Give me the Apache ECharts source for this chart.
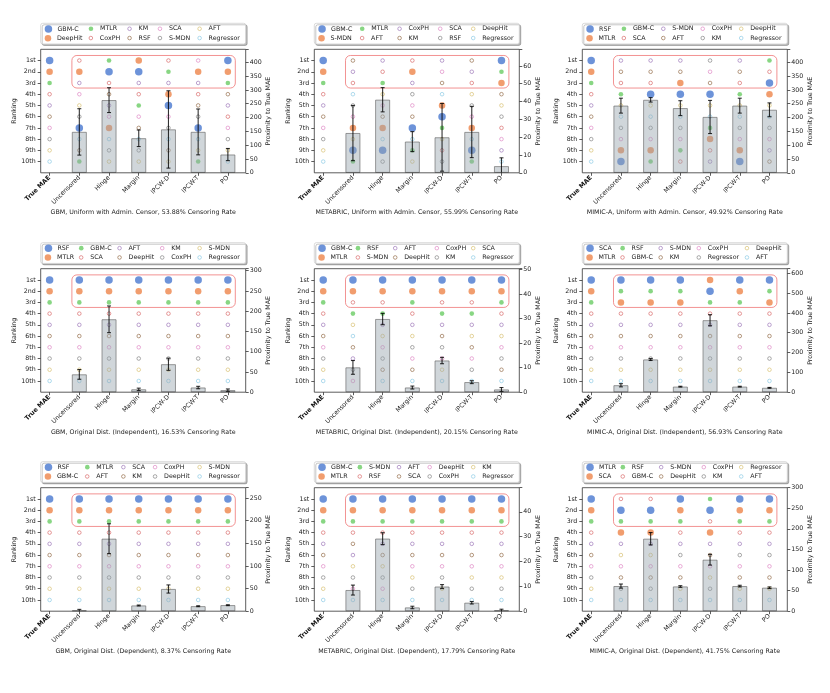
<!DOCTYPE html>
<html><head><meta charset="utf-8">
<script src="https://cdn.jsdelivr.net/npm/echarts@6/dist/echarts.min.js"></script>
<style>html,body{margin:0;padding:0;background:#fff}#c{width:830px;height:693px}</style>
</head><body><div id="c"></div>
<script>
// ---------------- DATA ----------------
const COLUMNS = ['True MAE','Uncensored','Hinge','Margin','IPCW-D','IPCW-T','PO'];
const RANK_LABELS = ['1st','2nd','3rd','4th','5th','6th','7th','8th','9th','10th'];
const TITLES = [
  'GBM, Uniform with Admin. Censor, 53.88% Censoring Rate',
  'METABRIC, Uniform with Admin. Censor, 55.99% Censoring Rate',
  'MIMIC-A, Uniform with Admin. Censor, 49.92% Censoring Rate',
  'GBM, Original Dist. (Independent), 16.53% Censoring Rate',
  'METABRIC, Original Dist. (Independent), 20.15% Censoring Rate',
  'MIMIC-A, Original Dist. (Independent), 56.93% Censoring Rate',
  'GBM, Original Dist. (Dependent), 8.37% Censoring Rate',
  'METABRIC, Original Dist. (Dependent), 17.79% Censoring Rate',
  'MIMIC-A, Original Dist. (Dependent), 41.75% Censoring Rate'
];

// Panel 1: GBM, Uniform
const ORDER_1 = ['GBM-C','DeepHit','MTLR','CoxPH','KM','RSF','SCA','S-MDN','AFT','Regressor'];
const RANKS_1 = [
  ['CoxPH','DeepHit','KM','SCA','AFT','S-MDN','GBM-C','Regressor','RSF','MTLR'],
  ['MTLR','GBM-C','CoxPH','RSF','KM','SCA','DeepHit','Regressor','S-MDN','AFT'],
  ['DeepHit','GBM-C','KM','CoxPH','MTLR','SCA','RSF','Regressor','S-MDN','AFT'],
  ['CoxPH','MTLR','KM','DeepHit','GBM-C','SCA','S-MDN','Regressor','RSF','AFT'],
  ['SCA','DeepHit','KM','CoxPH','RSF','S-MDN','GBM-C','Regressor','AFT','MTLR'],
  ['GBM-C','DeepHit','MTLR','RSF','KM','CoxPH','SCA','S-MDN','AFT','Regressor']
];
const PROX_1 = [148, 263, 125, 157, 148, 66];
const ERR_1 = [84, 45, 30, 140, 83, 22];

// Panel 2: METABRIC, Uniform
const ORDER_2 = ['GBM-C','S-MDN','MTLR','AFT','CoxPH','KM','SCA','RSF','DeepHit','Regressor'];
const RANKS_2 = [
  ['KM','CoxPH','AFT','Regressor','RSF','SCA','S-MDN','DeepHit','GBM-C','MTLR'],
  ['CoxPH','AFT','MTLR','DeepHit','SCA','KM','S-MDN','Regressor','GBM-C','RSF'],
  ['AFT','S-MDN','CoxPH','RSF','SCA','KM','GBM-C','Regressor','MTLR','DeepHit'],
  ['CoxPH','SCA','KM','Regressor','S-MDN','GBM-C','MTLR','DeepHit','AFT','RSF'],
  ['KM','CoxPH','AFT','DeepHit','RSF','SCA','S-MDN','Regressor','GBM-C','MTLR'],
  ['GBM-C','MTLR','S-MDN','KM','DeepHit','RSF','AFT','SCA','CoxPH','Regressor']
];
const PROX_2 = [22.3, 41, 17.5, 19.9, 22.9, 3.7];
const ERR_2 = [15.5, 6.8, 5.6, 19, 14.4, 4.7];

// Panel 3: MIMIC-A, Uniform
const ORDER_3 = ['RSF','MTLR','GBM-C','SCA','S-MDN','AFT','CoxPH','KM','DeepHit','Regressor'];
const RANKS_3 = [
  ['S-MDN','AFT','SCA','GBM-C','DeepHit','Regressor','KM','CoxPH','MTLR','RSF'],
  ['S-MDN','AFT','SCA','RSF','DeepHit','Regressor','KM','CoxPH','MTLR','GBM-C'],
  ['S-MDN','AFT','MTLR','RSF','DeepHit','Regressor','KM','CoxPH','GBM-C','SCA'],
  ['KM','CoxPH','AFT','RSF','DeepHit','Regressor','GBM-C','MTLR','SCA','S-MDN'],
  ['S-MDN','AFT','SCA','GBM-C','DeepHit','Regressor','KM','CoxPH','MTLR','RSF'],
  ['GBM-C','SCA','RSF','MTLR','DeepHit','Regressor','KM','CoxPH','S-MDN','AFT']
];
const PROX_3 = [243, 264, 234, 202, 243, 228];
const ERR_3 = [27, 8, 27, 60, 27, 25];

// Panel 4: GBM, Original (Independent)
const ORDER_4 = ['RSF','MTLR','GBM-C','SCA','AFT','DeepHit','KM','CoxPH','S-MDN','Regressor'];
const RANKS_4 = [ORDER_4, ORDER_4, ORDER_4, ORDER_4, ORDER_4, ORDER_4];
const PROX_4 = [44, 180, 7, 69, 11.5, 5];
const ERR_4 = [12, 33, 3, 15, 3, 3];

// Panel 5: METABRIC, Original (Independent)
const ORDER_5 = ['GBM-C','MTLR','RSF','S-MDN','AFT','DeepHit','CoxPH','KM','SCA','Regressor'];
const RANKS_5 = [
  ['GBM-C','MTLR','S-MDN','RSF','SCA','Regressor','DeepHit','AFT','KM','CoxPH'],
  ['GBM-C','MTLR','S-MDN','RSF','AFT','SCA','CoxPH','KM','DeepHit','Regressor'],
  ['GBM-C','MTLR','RSF','S-MDN','AFT','SCA','KM','CoxPH','DeepHit','Regressor'],
  ['GBM-C','MTLR','S-MDN','RSF','AFT','DeepHit','KM','CoxPH','SCA','Regressor'],
  ['GBM-C','MTLR','S-MDN','RSF','AFT','SCA','DeepHit','CoxPH','KM','Regressor'],
  ['GBM-C','MTLR','RSF','S-MDN','AFT','SCA','CoxPH','KM','DeepHit','Regressor']
];
const PROX_5 = [10.1, 29.8, 1.9, 12.9, 4.1, 1.1];
const ERR_5 = [2.8, 2.3, 0.6, 1.3, 0.6, 0.8];

// Panel 6: MIMIC-A, Original (Independent)
const ORDER_6 = ['SCA','MTLR','RSF','GBM-C','S-MDN','KM','CoxPH','Regressor','DeepHit','AFT'];
const RANKS_6 = [
  ['SCA','RSF','MTLR','GBM-C','S-MDN','KM','CoxPH','Regressor','DeepHit','AFT'],
  ['SCA','RSF','MTLR','GBM-C','S-MDN','KM','CoxPH','Regressor','DeepHit','AFT'],
  ['SCA','RSF','MTLR','GBM-C','S-MDN','KM','CoxPH','Regressor','DeepHit','AFT'],
  ['MTLR','SCA','RSF','GBM-C','S-MDN','KM','CoxPH','Regressor','DeepHit','AFT'],
  ['SCA','MTLR','RSF','GBM-C','S-MDN','KM','CoxPH','Regressor','DeepHit','AFT'],
  ['SCA','RSF','MTLR','GBM-C','S-MDN','KM','CoxPH','Regressor','DeepHit','AFT']
];
const PROX_6 = [35, 165, 28, 363, 28, 22];
const ERR_6 = [8, 5, 2, 28, 2, 2];

// Panel 7: GBM, Original (Dependent)
const ORDER_7 = ['RSF','GBM-C','MTLR','AFT','SCA','KM','CoxPH','DeepHit','S-MDN','Regressor'];
const RANKS_7 = [ORDER_7, ORDER_7, ORDER_7, ORDER_7, ORDER_7, ORDER_7];
const PROX_7 = [2, 160, 12.6, 49, 11, 13.3];
const ERR_7 = [2, 33, 1, 9, 1, 1];

// Panel 8: METABRIC, Original (Dependent)
const ORDER_8 = ['GBM-C','MTLR','S-MDN','RSF','AFT','SCA','DeepHit','CoxPH','KM','Regressor'];
const RANKS_8 = [
  ['GBM-C','MTLR','S-MDN','RSF','SCA','AFT','KM','CoxPH','DeepHit','Regressor'],
  ['GBM-C','MTLR','S-MDN','RSF','AFT','SCA','KM','CoxPH','DeepHit','Regressor'],
  ['GBM-C','MTLR','S-MDN','RSF','AFT','SCA','DeepHit','KM','CoxPH','Regressor'],
  ['GBM-C','MTLR','S-MDN','RSF','AFT','SCA','DeepHit','CoxPH','KM','Regressor'],
  ['GBM-C','MTLR','S-MDN','RSF','AFT','SCA','DeepHit','KM','CoxPH','Regressor'],
  ['GBM-C','MTLR','S-MDN','RSF','AFT','SCA','DeepHit','KM','CoxPH','Regressor']
];
const PROX_8 = [8.5, 29.2, 1.5, 9.9, 3.4, 0.4];
const ERR_8 = [2, 2.4, 0.5, 0.8, 0.5, 0.4];

// Panel 9: MIMIC-A, Original (Dependent)
const ORDER_9 = ['MTLR','SCA','RSF','GBM-C','S-MDN','DeepHit','CoxPH','KM','Regressor','AFT'];
const RANKS_9 = [
  ['GBM-C','MTLR','RSF','SCA','S-MDN','Regressor','CoxPH','DeepHit','KM','AFT'],
  ['GBM-C','MTLR','RSF','SCA','S-MDN','Regressor','CoxPH','DeepHit','KM','AFT'],
  ['MTLR','SCA','RSF','GBM-C','S-MDN','KM','CoxPH','DeepHit','Regressor','AFT'],
  ['RSF','MTLR','GBM-C','SCA','S-MDN','DeepHit','CoxPH','Regressor','KM','AFT'],
  ['MTLR','SCA','RSF','GBM-C','S-MDN','KM','CoxPH','DeepHit','Regressor','AFT'],
  ['MTLR','SCA','RSF','GBM-C','S-MDN','KM','CoxPH','DeepHit','Regressor','AFT']
];
const PROX_9 = [61, 176, 60, 125, 61, 57];
const ERR_9 = [5, 15, 2, 13, 2, 2];

// right-axis ranges (max, tick step)
const PROX_MAX = [447, 69.3, 447, 305, 50.3, 623, 272.6, 49.7, 300];
const PROX_STEP = [50, 10, 50, 50, 10, 100, 50, 10, 50];

const PANELS = [
  {order: ORDER_1, ranks: RANKS_1, prox: PROX_1, err: ERR_1},
  {order: ORDER_2, ranks: RANKS_2, prox: PROX_2, err: ERR_2},
  {order: ORDER_3, ranks: RANKS_3, prox: PROX_3, err: ERR_3},
  {order: ORDER_4, ranks: RANKS_4, prox: PROX_4, err: ERR_4},
  {order: ORDER_5, ranks: RANKS_5, prox: PROX_5, err: ERR_5},
  {order: ORDER_6, ranks: RANKS_6, prox: PROX_6, err: ERR_6},
  {order: ORDER_7, ranks: RANKS_7, prox: PROX_7, err: ERR_7},
  {order: ORDER_8, ranks: RANKS_8, prox: PROX_8, err: ERR_8},
  {order: ORDER_9, ranks: RANKS_9, prox: PROX_9, err: ERR_9}
];

// ---------------- STYLE / LAYOUT ----------------
const FONT = 'DejaVu Sans';
const FS = 6.3;
const TXT = '#222';
const PALETTE = ['#4878d0','#ee854a','#6acc64','#d65f5f','#956cb4','#8c613c','#dc7ec0','#797979','#d5bb67','#82c6e2'];
const COL_LEFT = [40.7, 314.3, 582.3];
const ROW_TOP = [49.3, 268.7, 487.7];
const PW = 205, PH = 123.5;
const XMIN = -0.3, XMAX = 6.6;

function markerSize(i){ return i === 0 ? 7.5 : i === 1 ? 6.5 : i === 2 ? 4.6 : 3.6; }
function markerStyle(i){
  const c = PALETTE[i];
  return i < 3 ? {color: c, borderWidth: 0} : {color: 'rgba(255,255,255,0)', borderColor: c, borderWidth: 0.8};
}

const ctx = document.createElement('canvas').getContext('2d');
ctx.font = FS + 'px "' + FONT + '"';
const tw = s => ctx.measureText(s).width;

const option = {animation: false, grid: [], xAxis: [], yAxis: [], series: [], legend: [], graphic: {elements: []}};
const G = option.graphic.elements;

PANELS.forEach((p, k) => {
  const r = Math.floor(k / 3), c = k % 3;
  const fL = COL_LEFT[c], fT = ROW_TOP[r];
  const u = PW / (XMAX - XMIN);
  const gL = fL + (XMIN + 0.5) * u * -1 * -1 - 0; // placeholder
  const gridLeft = fL - (0.5 + XMIN) * u;   // category band starts half a unit before x=0
  const gridW = 7 * u;
  option.grid.push({left: gridLeft, top: fT, width: gridW, height: PH, show: false});
  const tag = '\u200b'.repeat(k + 1);

  option.xAxis.push({
    gridIndex: k, type: 'category', data: COLUMNS, boundaryGap: true,
    axisLine: {show: false},
    axisTick: {show: true, alignWithLabel: true, interval: 0, length: 3, lineStyle: {color: '#333', width: 0.8}},
    axisLabel: {interval: 0, rotate: 45, margin: 4, fontSize: FS, fontFamily: FONT, color: TXT,
      formatter: (v, i) => i === 0 ? '{b|' + v + '}' : v,
      rich: {b: {fontWeight: 'bold', fontSize: FS, fontFamily: FONT, color: '#111'}}},
    splitLine: {show: false}
  });
  const showIdx = (i) => i >= 1 && i <= 10;
  option.yAxis.push({
    gridIndex: k, type: 'category', data: [' '].concat(RANK_LABELS, ['  ']), boundaryGap: false, inverse: true,
    position: 'left', offset: gridLeft - fL,
    axisLine: {show: false},
    axisTick: {show: true, interval: showIdx, length: 3, lineStyle: {color: '#333', width: 0.8}},
    axisLabel: {interval: showIdx, margin: 5, fontSize: FS, fontFamily: FONT, color: TXT},
    splitLine: {show: false},
    name: 'Ranking', nameLocation: 'middle', nameGap: 21,
    nameTextStyle: {fontSize: FS, fontFamily: FONT, color: TXT}
  });
  const step = PROX_STEP[k];
  option.yAxis.push({
    gridIndex: k, type: 'value', min: 0, max: PROX_MAX[k], interval: step,
    position: 'right', offset: (fL + PW) - (gridLeft + gridW),
    axisLine: {show: false},
    axisTick: {show: true, length: 3, lineStyle: {color: '#333', width: 0.8}},
    axisLabel: {margin: 4, fontSize: FS, fontFamily: FONT, color: TXT,
      formatter: v => Math.abs(v / step - Math.round(v / step)) < 1e-6 ? String(Math.round(v * 100) / 100) : ''},
    splitLine: {show: false},
    name: 'Proximity to True MAE', nameLocation: 'middle', nameGap: 16,
    nameTextStyle: {fontSize: FS, fontFamily: FONT, color: TXT}
  });

  // ranking markers
  p.order.forEach((m, i) => {
    const data = [[0, i + 1]].concat(p.ranks.map((col, j) => [j + 1, col.indexOf(m) + 1]));
    option.series.push({
      name: m + tag, type: 'scatter', xAxisIndex: k, yAxisIndex: 2 * k,
      symbol: 'circle', symbolSize: markerSize(i), itemStyle: markerStyle(i),
      data: data, z: 2, silent: true
    });
  });

  // red highlight box around top-3 of the estimator columns
  option.series.push({
    type: 'custom', xAxisIndex: k, yAxisIndex: 2 * k, data: [[1, 1]], z: 3, silent: true,
    renderItem: (params, api) => {
      const a = api.coord([1, 1]), b = api.coord([6, 3]), a2 = api.coord([2, 2]);
      const ux = Math.abs(a2[0] - a[0]), uy = Math.abs(a2[1] - a[1]);
      const x0 = a[0] - 0.25 * ux, x1 = b[0] + 0.25 * ux;
      const y0 = a[1] - 0.45 * uy, y1 = b[1] + 0.45 * uy;
      return {type: 'rect', shape: {x: x0, y: y0, width: x1 - x0, height: y1 - y0, r: 5},
        style: {fill: 'none', stroke: 'rgba(238,110,110,0.75)', lineWidth: 1}};
    }
  });

  // proximity bars
  option.series.push({
    type: 'bar', xAxisIndex: k, yAxisIndex: 2 * k + 1, barWidth: '50%',
    data: ['-'].concat(p.prox), z: 4, silent: true,
    itemStyle: {color: 'rgba(150,165,172,0.45)', borderColor: 'rgba(90,90,90,0.75)', borderWidth: 0.8}
  });
  // error bars
  option.series.push({
    type: 'custom', xAxisIndex: k, yAxisIndex: 2 * k + 1, z: 5, silent: true,
    data: p.prox.map((v, j) => [j + 1, v, p.err[j]]),
    renderItem: (params, api) => {
      const x = api.value(0), v = api.value(1), e = api.value(2);
      const lo = api.coord([x, Math.max(0, v - e)]), hi = api.coord([x, v + e]);
      const st = {stroke: 'rgba(0,0,0,0.8)', lineWidth: 1.1};
      const ch = [{type: 'line', shape: {x1: lo[0], y1: lo[1], x2: hi[0], y2: hi[1]}, style: st},
                  {type: 'line', shape: {x1: hi[0] - 2, y1: hi[1], x2: hi[0] + 2, y2: hi[1]}, style: st}];
      if (v - e > 0) ch.push({type: 'line', shape: {x1: lo[0] - 2, y1: lo[1], x2: lo[0] + 2, y2: lo[1]}, style: st});
      return {type: 'group', children: ch};
    }
  });

  // frame
  G.push({type: 'rect', silent: true, z: 50, shape: {x: fL, y: fT, width: PW, height: PH},
    style: {fill: 'none', stroke: '#333', lineWidth: 0.8}});
  // caption
  G.push({type: 'text', silent: true, z: 50, x: fL + PW / 2, y: fT + PH + 40,
    style: {text: TITLES[k], font: FS + 'px "' + FONT + '"', fill: TXT, align: 'center', verticalAlign: 'middle'}});

  // legend frame + per-item legends (5 columns x 2 rows, column-major)
  const boxT = fT - 26, boxH = 20.7;
  G.push({type: 'rect', silent: true, z: 0, shape: {x: fL, y: boxT, width: PW, height: boxH, r: 2},
    style: {fill: '#fff', stroke: '#cfcfcf', lineWidth: 0.8, shadowColor: 'rgba(0,0,0,0.28)', shadowOffsetX: 1.5, shadowOffsetY: 1.5, shadowBlur: 0.5}});
  const colW = [0,1,2,3,4].map(ci => 13 + Math.max(tw(p.order[2 * ci]), tw(p.order[2 * ci + 1])));
  const gap = (PW - 8 - colW.reduce((a, b) => a + b, 0)) / 4;
  let cx = fL + 8;
  for (let ci = 0; ci < 5; ci++) {
    for (let rr = 0; rr < 2; rr++) {
      const i = 2 * ci + rr;
      const sz = markerSize(i);
      const rowY = boxT + (rr === 0 ? 5.6 : 14.9);
      option.legend.push({
        show: true, selectedMode: false, padding: 0, itemGap: 0,
        left: cx - 4, top: rowY - Math.max(sz, FS) / 2,
        itemWidth: 8, itemHeight: sz,
        data: [{name: p.order[i] + tag, icon: 'circle'}],
        itemStyle: markerStyle(i),
        textStyle: {fontSize: FS, fontFamily: FONT, color: TXT}
      });
    }
    cx += colW[ci] + gap;
  }
});

const chart = echarts.init(document.getElementById('c'), null, {renderer: 'canvas'});
chart.setOption(option);
</script>
</body></html>
